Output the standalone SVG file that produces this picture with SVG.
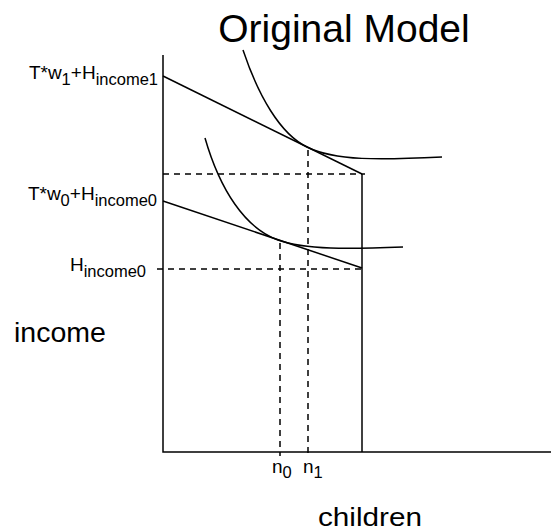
<svg xmlns="http://www.w3.org/2000/svg" width="551" height="531" viewBox="0 0 551 531">
<style>
text{font-family:"Liberation Sans",Arial,sans-serif;fill:#000}
.s{stroke:#000;stroke-width:1.5;fill:none}
.d{stroke:#000;stroke-width:1.5;fill:none;stroke-dasharray:6,5}
.lbl{font-size:19px}
.sub{font-size:16.5px}
</style>
<rect width="551" height="531" fill="#fff"/>
<text x="344" y="42" font-size="39" text-anchor="middle">Original Model</text>
<g id="axes">
<path class="s" d="M163,55 V452 H551"/>
<path class="s" d="M362,174 V452"/>
</g>
<g id="connectors">
<path class="s" d="M163,76 L362,174"/>
<path class="s" d="M163,201 L362,268"/>
<path class="d" d="M163,174 H365"/>
<path class="d" d="M157,269 H362"/>
<path class="d" d="M280,243 V456"/>
<path class="d" d="M308,150 V456"/>
</g>
<g id="curves">
<path class="s" d="M243,50 C258,95 280,134 307,147 C335,161 380,160 442,157"/>
<path class="s" d="M205,138 C220,190 245,228 278,240 C305,250 350,249 403,247"/>
</g>
<g id="labels">
<text x="158" y="79" class="lbl" text-anchor="end">T*w<tspan class="sub" dy="6">1</tspan><tspan dy="-6">+H</tspan><tspan class="sub" dy="6">income1</tspan></text>
<text x="157" y="200" class="lbl" text-anchor="end">T*w<tspan class="sub" dy="6">0</tspan><tspan dy="-6">+H</tspan><tspan class="sub" dy="6">income0</tspan></text>
<text x="146" y="271" class="lbl" text-anchor="end">H<tspan class="sub" dy="6">income0</tspan></text>
<text x="14" y="342" font-size="28.5">income</text>
<text x="318" y="526" font-size="25" textLength="104" lengthAdjust="spacingAndGlyphs">children</text>
<text x="272" y="473" class="lbl">n<tspan class="sub" dy="5">0</tspan></text>
<text x="303" y="473" class="lbl">n<tspan class="sub" dy="5">1</tspan></text>
</g>
</svg>
